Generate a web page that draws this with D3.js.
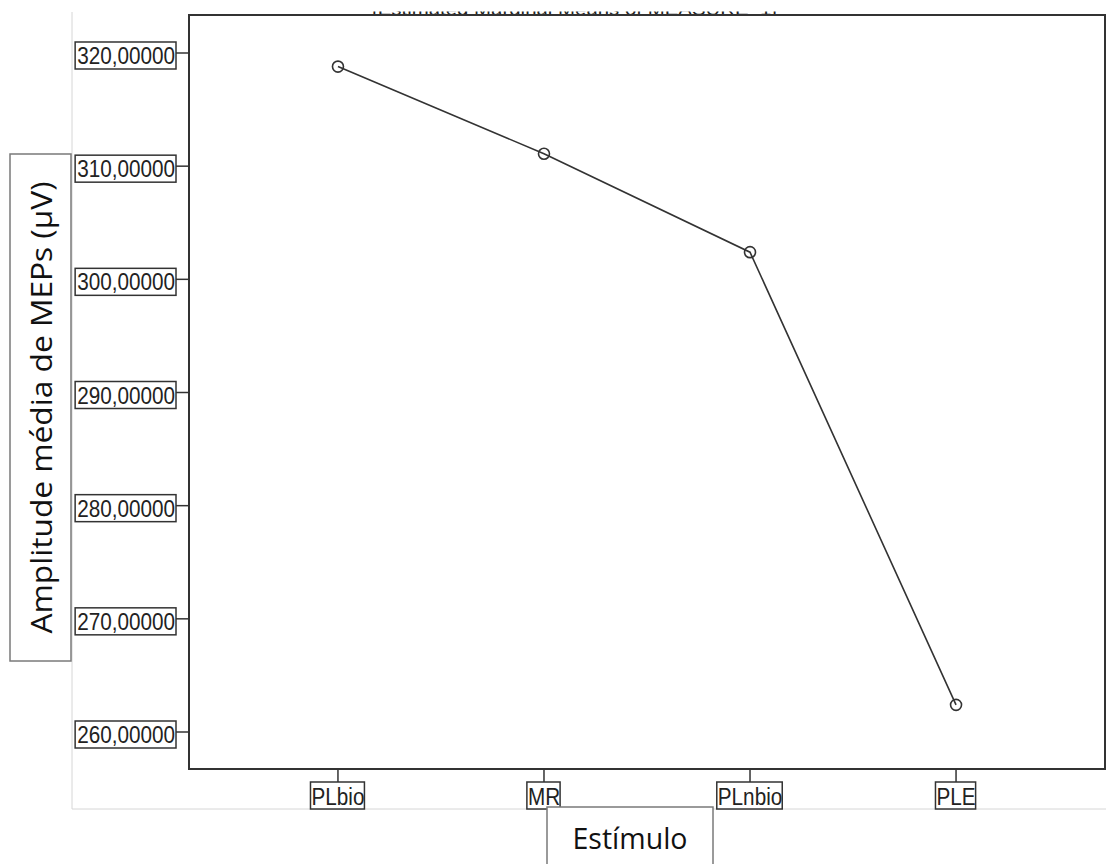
<!DOCTYPE html>
<html>
<head>
<meta charset="utf-8">
<script src="https://cdn.jsdelivr.net/npm/d3@7"></script>
<style>
	body { margin: 0; background: #fff; }
	svg { display: block; }
</style>
</head>
<body>
<main></main>
<script>

// data
const categories = ["PLbio", "MR", "PLnbio", "PLE"];
const means = [318.8, 311.1, 302.4, 262.4];
const yTicks = [260, 270, 280, 290, 300, 310, 320];
const yTitle = "Amplitude média de MEPs (µV)";
const xTitle = "Estímulo";
const chartTitle = "Estimated Marginal Means of MEASURE_1";

async function drawLineChart() {

	// 1. Access data

	const dataset = categories.map((c, i) => ({ cat: c, value: means[i] }));
	const xAccessor = d => d.cat;
	const yAccessor = d => d.value;

	// 2. Create dimensions

	let dimensions = {
		width: 1106,
		height: 864,
		margin: {
			top: 15,
			bottom: 95,
			left: 189,
			right: 1,
		},
	};
	dimensions.boundedWidth = dimensions.width - dimensions.margin.left - dimensions.margin.right;
	dimensions.boundedHeight = dimensions.height - dimensions.margin.top - dimensions.margin.bottom;

	// 3. Draw canvas

	const canvas = d3.select("main")
		.append("svg")
		.attr("width", dimensions.width)
		.attr("height", dimensions.height);

	// faint outer frame of the original picture
	canvas.append("path")
		.attr("d", `M72,12 V809 H${dimensions.width}`)
		.attr("fill", "none")
		.attr("stroke", "#d6d6d6")
		.attr("stroke-width", 1);

	// title, mostly cut off at the top
	canvas.append("clipPath")
		.attr("id", "titleClip")
		.append("rect")
		.attr("x", 360).attr("y", 11.5)
		.attr("width", 430).attr("height", 4);

	canvas.append("text")
		.attr("clip-path", "url(#titleClip)")
		.attr("x", 372)
		.attr("y", 15)
		.attr("textLength", 405)
		.attr("lengthAdjust", "spacingAndGlyphs")
		.style("font-family", "'Liberation Sans', Arial, sans-serif")
		.style("font-size", "17px")
		.attr("fill", "#222")
		.text(`[${chartTitle}]`);

	const graph = canvas.append("g")
		.attr("transform", `translate(${dimensions.margin.left}, ${dimensions.margin.top})`);

	// 4. Create scales

	const xScale = d3.scalePoint()
		.domain(categories)
		.range([0, dimensions.boundedWidth])
		.padding(0.723);

	// 320 sits 38px below the frame top, 260 sits 37px above the frame bottom
	const pxPerUnit = 11.317;
	const yScale = d3.scaleLinear()
		.domain([260 - 37 / pxPerUnit, 320 + 38 / pxPerUnit])
		.range([dimensions.boundedHeight, 0]);

	const fmt = v => d3.format(".5f")(v).replace(".", ",");
	const labelFont = "'Liberation Sans', Arial, sans-serif";
	const squeeze = 0.9;

	// frame
	graph.append("rect")
		.attr("x", 0)
		.attr("y", 0)
		.attr("width", dimensions.boundedWidth)
		.attr("height", dimensions.boundedHeight)
		.attr("fill", "none")
		.attr("stroke", "#333")
		.attr("stroke-width", 2);

	// y axis
	const yAxis = graph.append("g");
	const yTick = yAxis.selectAll("g")
		.data(yTicks)
		.enter()
		.append("g")
		.attr("transform", d => `translate(0, ${yScale(d)})`);

	yTick.append("line")
		.attr("x1", -13).attr("x2", 0)
		.attr("stroke", "#333")
		.attr("stroke-width", 1.5);

	yTick.append("text")
		.attr("x", -14)
		.attr("y", 11)
		.attr("text-anchor", "end")
		.style("font-family", labelFont)
		.style("font-size", "23px")
		.attr("fill", "#222")
		.text(fmt)
		.each(function() {
			const w = this.getComputedTextLength();
			d3.select(this)
				.attr("textLength", w * squeeze)
				.attr("lengthAdjust", "spacingAndGlyphs");
		});

	yTick.each(function() {
		const t = d3.select(this).select("text").node();
		const w = +t.getAttribute("textLength");
		d3.select(this).insert("rect", "text")
			.attr("x", -13 - w - 3)
			.attr("y", -11)
			.attr("width", w + 3)
			.attr("height", 27)
			.attr("fill", "#fff")
			.attr("stroke", "#333")
			.attr("stroke-width", 1.5);
	});

	// x axis
	const xAxis = graph.append("g")
		.attr("transform", `translate(0, ${dimensions.boundedHeight})`);
	const xTick = xAxis.selectAll("g")
		.data(categories)
		.enter()
		.append("g")
		.attr("transform", d => `translate(${xScale(d)}, 0)`);

	xTick.append("line")
		.attr("y1", 0).attr("y2", 13)
		.attr("stroke", "#333")
		.attr("stroke-width", 1.5);

	xTick.append("text")
		.attr("x", 0)
		.attr("y", 36)
		.attr("text-anchor", "middle")
		.style("font-family", labelFont)
		.style("font-size", "23px")
		.attr("fill", "#222")
		.text(d => d)
		.each(function() {
			const w = this.getComputedTextLength();
			d3.select(this)
				.attr("textLength", w * squeeze)
				.attr("lengthAdjust", "spacingAndGlyphs");
		});

	xTick.each(function() {
		const t = d3.select(this).select("text").node();
		const w = +t.getAttribute("textLength");
		d3.select(this).insert("rect", "text")
			.attr("x", -w / 2 - 1)
			.attr("y", 13)
			.attr("width", w + 1)
			.attr("height", 27)
			.attr("fill", "#fff")
			.attr("stroke", "#333")
			.attr("stroke-width", 1.5);
	});

	// 5. Draw data

	const lineGen = d3.line()
		.x(d => xScale(xAccessor(d)))
		.y(d => yScale(yAccessor(d)));

	graph.append("path")
		.datum(dataset)
		.attr("d", lineGen)
		.attr("fill", "none")
		.attr("stroke", "#333")
		.attr("stroke-width", 1.6);

	graph.selectAll("circle")
		.data(dataset)
		.enter()
		.append("circle")
		.attr("cx", d => xScale(xAccessor(d)))
		.attr("cy", d => yScale(yAccessor(d)))
		.attr("r", 5.5)
		.attr("fill", "none")
		.attr("stroke", "#333")
		.attr("stroke-width", 1.6);

	// 6. Axis titles in their pasted boxes

	const yBox = canvas.append("g");
	yBox.append("rect")
		.attr("x", 10).attr("y", 154)
		.attr("width", 61).attr("height", 507)
		.attr("fill", "#fff")
		.attr("stroke", "#7a7a7a")
		.attr("stroke-width", 1.5);
	yBox.append("text")
		.attr("transform", "translate(52, 407.5) rotate(-90)")
		.attr("text-anchor", "middle")
		.attr("textLength", 452)
		.attr("lengthAdjust", "spacingAndGlyphs")
		.style("font-family", "'Open Sans', 'Noto Sans', sans-serif")
		.style("font-size", "30px")
		.attr("fill", "#111")
		.text(yTitle);

	const xBox = canvas.append("g");
	xBox.append("rect")
		.attr("x", 547).attr("y", 807)
		.attr("width", 166).attr("height", 70)
		.attr("fill", "#fff")
		.attr("stroke", "#7a7a7a")
		.attr("stroke-width", 1.5);
	xBox.append("text")
		.attr("x", 630)
		.attr("y", 849)
		.attr("text-anchor", "middle")
		.attr("textLength", 115)
		.attr("lengthAdjust", "spacingAndGlyphs")
		.style("font-family", "'Open Sans', 'Noto Sans', sans-serif")
		.style("font-size", "30px")
		.attr("fill", "#111")
		.text(xTitle);
}

drawLineChart();
</script>
</body>
</html>
